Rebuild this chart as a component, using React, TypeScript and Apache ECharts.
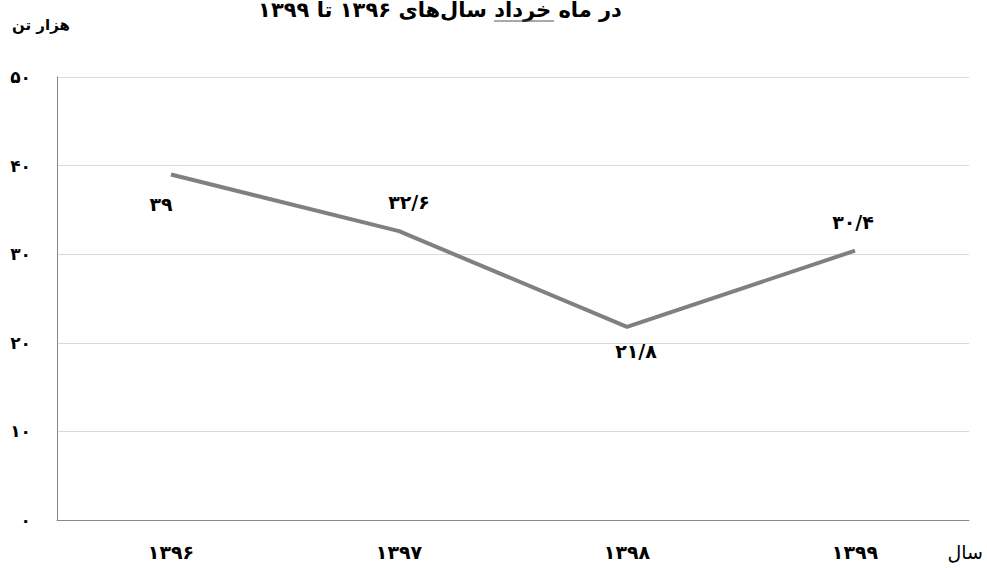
import React, { useEffect, useRef } from "react";
import * as echarts from "echarts";

const categories = ["1396", "1397", "1398", "1399"];
const values = [39, 32.6, 21.8, 30.4];
const titleText = "در ماه خرداد سال‌های ۱۳۹۶ تا ۱۳۹۹";
const yUnit = "هزار تن";
const xUnit = "سال";

const fa = (s: string | number) =>
  String(s)
    .replace(/\./g, "/")
    .replace(/[0-9]/g, (d) => "۰۱۲۳۴۵۶۷۸۹"[Number(d)]);

const FONT = "'DejaVu Sans', sans-serif";

export default function App() {
  const ref = useRef<HTMLDivElement>(null);
  useEffect(() => {
    document.body.style.margin = "0";
    if (!ref.current) return;
    const chart = echarts.init(ref.current, undefined, { renderer: "svg" });
    const labelCfg = [
      { position: "bottom", offset: [-10, 14] },
      { position: "top", offset: [10, -14] },
      { position: "bottom", offset: [9, 9] },
      { position: "top", offset: [-2, -13] },
    ];
    chart.setOption({
      animation: false,
      grid: { left: 57, right: 18, top: 77, bottom: 48 },
      xAxis: {
        type: "category",
        data: categories,
        boundaryGap: true,
        axisLine: { lineStyle: { color: "#888888", width: 1 } },
        axisTick: { alignWithLabel: true, length: 8, lineStyle: { color: "#888888" } },
        axisLabel: {
          formatter: (v: string) => fa(v),
          color: "#000",
          fontFamily: FONT,
          fontWeight: "bold",
          fontSize: 19,
          margin: 22,
        },
        splitLine: { show: false },
      },
      yAxis: {
        type: "value",
        min: 0,
        max: 50,
        interval: 10,
        axisLine: { show: true, lineStyle: { color: "#888888", width: 1 } },
        axisTick: { show: false },
        splitLine: { lineStyle: { color: "#d9d9d9", width: 1 } },
        axisLabel: {
          formatter: (v: number) => fa(v),
          color: "#000",
          fontFamily: FONT,
          fontWeight: "bold",
          fontSize: 17,
          margin: 26,
        },
      },
      series: [
        {
          type: "line",
          data: values.map((v, i) => ({
            value: v,
            label: {
              position: labelCfg[i].position,
              offset: labelCfg[i].offset,
            },
          })),
          label: {
            show: true,
            formatter: (p: any) => fa(p.value),
            color: "#000",
            fontFamily: FONT,
            fontWeight: "bold",
            fontSize: 19,
          },
          symbol: "circle",
          symbolSize: 2,
          showSymbol: true,
          itemStyle: { color: "rgba(128,128,128,0)" },
          lineStyle: { color: "#808080", width: 4 },
        },
      ],
      graphic: [
        {
          type: "text",
          x: 440,
          y: -1,
          style: {
            text: titleText,
            font: `bold 21px ${FONT}`,
            fill: "#000",
            align: "center",
            verticalAlign: "top",
          },
        },
        {
          type: "line",
          shape: { x1: 494, y1: 21, x2: 554, y2: 21 },
          style: { stroke: "#555", lineWidth: 1 },
        },
        {
          type: "text",
          left: 12,
          top: 17,
          style: { text: yUnit, font: `bold 15px ${FONT}`, fill: "#000" },
        },
        {
          type: "text",
          right: 4,
          top: 542,
          style: { text: xUnit, font: `19px ${FONT}`, fill: "#000" },
        },
      ],
    });
    return () => chart.dispose();
  }, []);
  return <div ref={ref} style={{ width: 987, height: 568 }} />;
}
